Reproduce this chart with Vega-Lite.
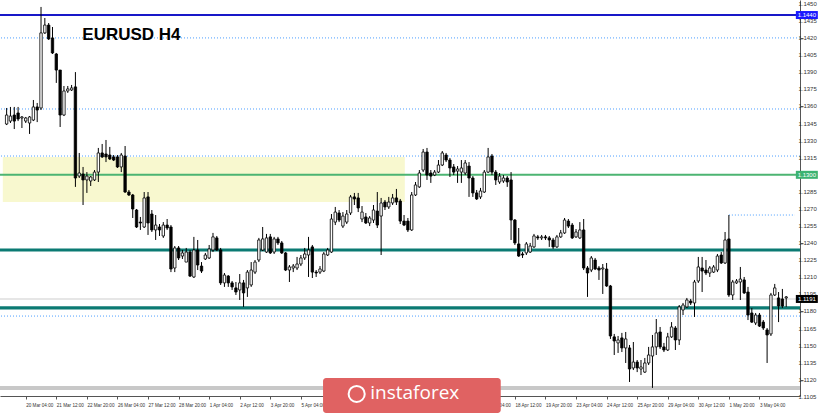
{
  "$schema": "https://vega.github.io/schema/vega-lite/v6.json",
  "width": 800,
  "height": 396,
  "autosize": {"type": "none"},
  "padding": {"left": 0, "top": 0, "right": 25, "bottom": 17},
  "background": "white",
  "config": {
    "view": {"stroke": null},
    "axis": {"labelOverlap": false, "labelFlush": false, "labelBound": false},
    "axisX": {"labelOverlap": false},
    "axisY": {"labelOverlap": false}
  },
  "datasets": {
    "bars": [
      {"i":0,"o":1.13446,"h":1.13587,"l":1.13437,"c":1.13525},
      {"i":1,"o":1.13472,"h":1.13596,"l":1.13455,"c":1.13516},
      {"i":2,"o":1.13525,"h":1.13596,"l":1.13402,"c":1.13472},
      {"i":3,"o":1.13543,"h":1.13596,"l":1.13472,"c":1.13490},
      {"i":4,"o":1.13499,"h":1.13516,"l":1.13411,"c":1.13508},
      {"i":5,"o":1.13472,"h":1.13508,"l":1.13455,"c":1.13499},
      {"i":6,"o":1.13455,"h":1.13516,"l":1.13359,"c":1.13508},
      {"i":7,"o":1.13481,"h":1.13657,"l":1.13472,"c":1.13596},
      {"i":8,"o":1.13596,"h":1.13631,"l":1.13463,"c":1.13569},
      {"i":9,"o":1.13587,"h":1.14474,"l":1.13569,"c":1.14246},
      {"i":10,"o":1.14246,"h":1.14377,"l":1.14237,"c":1.14315},
      {"i":11,"o":1.14315,"h":1.14333,"l":1.14184,"c":1.14193},
      {"i":12,"o":1.14202,"h":1.14298,"l":1.14061,"c":1.14070},
      {"i":13,"o":1.14061,"h":1.14070,"l":1.13807,"c":1.13920},
      {"i":14,"o":1.13920,"h":1.13920,"l":1.13420,"c":1.13525},
      {"i":15,"o":1.13525,"h":1.13780,"l":1.13516,"c":1.13736},
      {"i":16,"o":1.13736,"h":1.13780,"l":1.13719,"c":1.13754},
      {"i":17,"o":1.13745,"h":1.13789,"l":1.13736,"c":1.13763},
      {"i":18,"o":1.13772,"h":1.13902,"l":1.12894,"c":1.12972},
      {"i":19,"o":1.12989,"h":1.13192,"l":1.12972,"c":1.13016},
      {"i":20,"o":1.13007,"h":1.13069,"l":1.12735,"c":1.12955},
      {"i":21,"o":1.12955,"h":1.13024,"l":1.12841,"c":1.12989},
      {"i":22,"o":1.12946,"h":1.12989,"l":1.12902,"c":1.12981},
      {"i":23,"o":1.12955,"h":1.13042,"l":1.12946,"c":1.13024},
      {"i":24,"o":1.13024,"h":1.13236,"l":1.12937,"c":1.13192},
      {"i":25,"o":1.13192,"h":1.13271,"l":1.13148,"c":1.13157},
      {"i":26,"o":1.13183,"h":1.13306,"l":1.13112,"c":1.13157},
      {"i":27,"o":1.13174,"h":1.13245,"l":1.13130,"c":1.13139},
      {"i":28,"o":1.13157,"h":1.13174,"l":1.13121,"c":1.13130},
      {"i":29,"o":1.13157,"h":1.13174,"l":1.13060,"c":1.13069},
      {"i":30,"o":1.13069,"h":1.13192,"l":1.13024,"c":1.13174},
      {"i":31,"o":1.13165,"h":1.13253,"l":1.12841,"c":1.12849},
      {"i":32,"o":1.12849,"h":1.12867,"l":1.12814,"c":1.12823},
      {"i":33,"o":1.12823,"h":1.12832,"l":1.12621,"c":1.12700},
      {"i":34,"o":1.12691,"h":1.12700,"l":1.12533,"c":1.12542},
      {"i":35,"o":1.12585,"h":1.12630,"l":1.12516,"c":1.12577},
      {"i":36,"o":1.12542,"h":1.12849,"l":1.12533,"c":1.12797},
      {"i":37,"o":1.12806,"h":1.12849,"l":1.12472,"c":1.12577},
      {"i":38,"o":1.12656,"h":1.12691,"l":1.12498,"c":1.12516},
      {"i":39,"o":1.12516,"h":1.12647,"l":1.12428,"c":1.12559},
      {"i":40,"o":1.12542,"h":1.12568,"l":1.12463,"c":1.12516},
      {"i":41,"o":1.12463,"h":1.12585,"l":1.12446,"c":1.12559},
      {"i":42,"o":1.12559,"h":1.12612,"l":1.12516,"c":1.12533},
      {"i":43,"o":1.12542,"h":1.12559,"l":1.12146,"c":1.12173},
      {"i":44,"o":1.12182,"h":1.12375,"l":1.12146,"c":1.12358},
      {"i":45,"o":1.12358,"h":1.12375,"l":1.12252,"c":1.12270},
      {"i":46,"o":1.12287,"h":1.12340,"l":1.12261,"c":1.12314},
      {"i":47,"o":1.12234,"h":1.12358,"l":1.12234,"c":1.12322},
      {"i":48,"o":1.12322,"h":1.12340,"l":1.12103,"c":1.12111},
      {"i":49,"o":1.12103,"h":1.12455,"l":1.12094,"c":1.12340},
      {"i":50,"o":1.12340,"h":1.12428,"l":1.12164,"c":1.12208},
      {"i":51,"o":1.12199,"h":1.12234,"l":1.12138,"c":1.12155},
      {"i":52,"o":1.12261,"h":1.12314,"l":1.12252,"c":1.12296},
      {"i":53,"o":1.12270,"h":1.12384,"l":1.12261,"c":1.12349},
      {"i":54,"o":1.12340,"h":1.12490,"l":1.12322,"c":1.12455},
      {"i":55,"o":1.12446,"h":1.12463,"l":1.12331,"c":1.12340},
      {"i":56,"o":1.12340,"h":1.12358,"l":1.12033,"c":1.12051},
      {"i":57,"o":1.12051,"h":1.12138,"l":1.12016,"c":1.12120},
      {"i":58,"o":1.12111,"h":1.12120,"l":1.12016,"c":1.12051},
      {"i":59,"o":1.12051,"h":1.12068,"l":1.11989,"c":1.12016},
      {"i":60,"o":1.12007,"h":1.12059,"l":1.11945,"c":1.11971},
      {"i":61,"o":1.11989,"h":1.12129,"l":1.11901,"c":1.12051},
      {"i":62,"o":1.12051,"h":1.12077,"l":1.11840,"c":1.11963},
      {"i":63,"o":1.12007,"h":1.12164,"l":1.11928,"c":1.12146},
      {"i":64,"o":1.12033,"h":1.12234,"l":1.12016,"c":1.12164},
      {"i":65,"o":1.12146,"h":1.12252,"l":1.12129,"c":1.12234},
      {"i":66,"o":1.12252,"h":1.12446,"l":1.12234,"c":1.12428},
      {"i":67,"o":1.12340,"h":1.12542,"l":1.12331,"c":1.12437},
      {"i":68,"o":1.12322,"h":1.12481,"l":1.12314,"c":1.12446},
      {"i":69,"o":1.12455,"h":1.12481,"l":1.12305,"c":1.12314},
      {"i":70,"o":1.12322,"h":1.12455,"l":1.12305,"c":1.12437},
      {"i":71,"o":1.12437,"h":1.12455,"l":1.12384,"c":1.12402},
      {"i":72,"o":1.12402,"h":1.12419,"l":1.12305,"c":1.12314},
      {"i":73,"o":1.12314,"h":1.12322,"l":1.12155,"c":1.12164},
      {"i":74,"o":1.12164,"h":1.12208,"l":1.12059,"c":1.12191},
      {"i":75,"o":1.12182,"h":1.12217,"l":1.12146,"c":1.12199},
      {"i":76,"o":1.12182,"h":1.12279,"l":1.12164,"c":1.12217},
      {"i":77,"o":1.12217,"h":1.12296,"l":1.12199,"c":1.12270},
      {"i":78,"o":1.12270,"h":1.12358,"l":1.12252,"c":1.12305},
      {"i":79,"o":1.12296,"h":1.12455,"l":1.12103,"c":1.12340},
      {"i":80,"o":1.12367,"h":1.12384,"l":1.12094,"c":1.12146},
      {"i":81,"o":1.12146,"h":1.12164,"l":1.12103,"c":1.12138},
      {"i":82,"o":1.12146,"h":1.12199,"l":1.12129,"c":1.12173},
      {"i":83,"o":1.12155,"h":1.12322,"l":1.12146,"c":1.12305},
      {"i":84,"o":1.12296,"h":1.12358,"l":1.12287,"c":1.12340},
      {"i":85,"o":1.12322,"h":1.12656,"l":1.12314,"c":1.12612},
      {"i":86,"o":1.12585,"h":1.12718,"l":1.12559,"c":1.12673},
      {"i":87,"o":1.12665,"h":1.12691,"l":1.12585,"c":1.12603},
      {"i":88,"o":1.12550,"h":1.12673,"l":1.12533,"c":1.12638},
      {"i":89,"o":1.12585,"h":1.12691,"l":1.12568,"c":1.12656},
      {"i":90,"o":1.12665,"h":1.12823,"l":1.12647,"c":1.12806},
      {"i":91,"o":1.12806,"h":1.12841,"l":1.12735,"c":1.12788},
      {"i":92,"o":1.12797,"h":1.12841,"l":1.12673,"c":1.12709},
      {"i":93,"o":1.12612,"h":1.12726,"l":1.12585,"c":1.12673},
      {"i":94,"o":1.12630,"h":1.12665,"l":1.12568,"c":1.12577},
      {"i":95,"o":1.12577,"h":1.12638,"l":1.12550,"c":1.12621},
      {"i":96,"o":1.12603,"h":1.12735,"l":1.12577,"c":1.12691},
      {"i":97,"o":1.12682,"h":1.12849,"l":1.12533,"c":1.12559},
      {"i":98,"o":1.12638,"h":1.12797,"l":1.12296,"c":1.12753},
      {"i":99,"o":1.12761,"h":1.12779,"l":1.12691,"c":1.12718},
      {"i":100,"o":1.12718,"h":1.12806,"l":1.12700,"c":1.12761},
      {"i":101,"o":1.12753,"h":1.12832,"l":1.12735,"c":1.12797},
      {"i":102,"o":1.12797,"h":1.12876,"l":1.12735,"c":1.12761},
      {"i":103,"o":1.12770,"h":1.12788,"l":1.12568,"c":1.12594},
      {"i":104,"o":1.12594,"h":1.12647,"l":1.12550,"c":1.12559},
      {"i":105,"o":1.12594,"h":1.12621,"l":1.12498,"c":1.12516},
      {"i":106,"o":1.12516,"h":1.12849,"l":1.12507,"c":1.12823},
      {"i":107,"o":1.12823,"h":1.12937,"l":1.12814,"c":1.12911},
      {"i":108,"o":1.12894,"h":1.13042,"l":1.12885,"c":1.13016},
      {"i":109,"o":1.13042,"h":1.13227,"l":1.13024,"c":1.13200},
      {"i":110,"o":1.13200,"h":1.13236,"l":1.12955,"c":1.12998},
      {"i":111,"o":1.13016,"h":1.13042,"l":1.12929,"c":1.12989},
      {"i":112,"o":1.12998,"h":1.13042,"l":1.12989,"c":1.13024},
      {"i":113,"o":1.13024,"h":1.13130,"l":1.13016,"c":1.13086},
      {"i":114,"o":1.13086,"h":1.13209,"l":1.13077,"c":1.13192},
      {"i":115,"o":1.13174,"h":1.13192,"l":1.13112,"c":1.13130},
      {"i":116,"o":1.13130,"h":1.13148,"l":1.12981,"c":1.13060},
      {"i":117,"o":1.13069,"h":1.13095,"l":1.12998,"c":1.13024},
      {"i":118,"o":1.13033,"h":1.13077,"l":1.12929,"c":1.13051},
      {"i":119,"o":1.13024,"h":1.13130,"l":1.12929,"c":1.13060},
      {"i":120,"o":1.13016,"h":1.13130,"l":1.12998,"c":1.13104},
      {"i":121,"o":1.13077,"h":1.13112,"l":1.12806,"c":1.12972},
      {"i":122,"o":1.12972,"h":1.12989,"l":1.12806,"c":1.12841},
      {"i":123,"o":1.12841,"h":1.12867,"l":1.12779,"c":1.12788},
      {"i":124,"o":1.12806,"h":1.12885,"l":1.12788,"c":1.12858},
      {"i":125,"o":1.12849,"h":1.13042,"l":1.12841,"c":1.13024},
      {"i":126,"o":1.13024,"h":1.13236,"l":1.13016,"c":1.13157},
      {"i":127,"o":1.13165,"h":1.13183,"l":1.12998,"c":1.13024},
      {"i":128,"o":1.13024,"h":1.13042,"l":1.12911,"c":1.12955},
      {"i":129,"o":1.12937,"h":1.13016,"l":1.12920,"c":1.12989},
      {"i":130,"o":1.12946,"h":1.12998,"l":1.12929,"c":1.12972},
      {"i":131,"o":1.12972,"h":1.12989,"l":1.12894,"c":1.12937},
      {"i":132,"o":1.12955,"h":1.13024,"l":1.12428,"c":1.12603},
      {"i":133,"o":1.12603,"h":1.12612,"l":1.12384,"c":1.12402},
      {"i":134,"o":1.12393,"h":1.12533,"l":1.12279,"c":1.12287},
      {"i":135,"o":1.12305,"h":1.12322,"l":1.12270,"c":1.12296},
      {"i":136,"o":1.12314,"h":1.12410,"l":1.12296,"c":1.12393},
      {"i":137,"o":1.12322,"h":1.12402,"l":1.12314,"c":1.12375},
      {"i":138,"o":1.12367,"h":1.12481,"l":1.12358,"c":1.12463},
      {"i":139,"o":1.12455,"h":1.12472,"l":1.12428,"c":1.12446},
      {"i":140,"o":1.12446,"h":1.12472,"l":1.12428,"c":1.12455},
      {"i":141,"o":1.12455,"h":1.12472,"l":1.12428,"c":1.12446},
      {"i":142,"o":1.12446,"h":1.12463,"l":1.12367,"c":1.12428},
      {"i":143,"o":1.12428,"h":1.12446,"l":1.12349,"c":1.12367},
      {"i":144,"o":1.12367,"h":1.12472,"l":1.12358,"c":1.12455},
      {"i":145,"o":1.12455,"h":1.12516,"l":1.12446,"c":1.12490},
      {"i":146,"o":1.12490,"h":1.12621,"l":1.12481,"c":1.12603},
      {"i":147,"o":1.12594,"h":1.12612,"l":1.12533,"c":1.12550},
      {"i":148,"o":1.12559,"h":1.12577,"l":1.12437,"c":1.12446},
      {"i":149,"o":1.12455,"h":1.12524,"l":1.12446,"c":1.12498},
      {"i":150,"o":1.12446,"h":1.12585,"l":1.12437,"c":1.12516},
      {"i":151,"o":1.12516,"h":1.12612,"l":1.12164,"c":1.12182},
      {"i":152,"o":1.12182,"h":1.12199,"l":1.11928,"c":1.12138},
      {"i":153,"o":1.12164,"h":1.12287,"l":1.12146,"c":1.12270},
      {"i":154,"o":1.12252,"h":1.12270,"l":1.12164,"c":1.12173},
      {"i":155,"o":1.12182,"h":1.12199,"l":1.12077,"c":1.12164},
      {"i":156,"o":1.12173,"h":1.12217,"l":1.11954,"c":1.12182},
      {"i":157,"o":1.12173,"h":1.12226,"l":1.12016,"c":1.12024},
      {"i":158,"o":1.12024,"h":1.12033,"l":1.11559,"c":1.11585},
      {"i":159,"o":1.11577,"h":1.11603,"l":1.11418,"c":1.11541},
      {"i":160,"o":1.11524,"h":1.11585,"l":1.11436,"c":1.11550},
      {"i":161,"o":1.11568,"h":1.11612,"l":1.11444,"c":1.11480},
      {"i":162,"o":1.11480,"h":1.11620,"l":1.11348,"c":1.11559},
      {"i":163,"o":1.11480,"h":1.11506,"l":1.11181,"c":1.11295},
      {"i":164,"o":1.11304,"h":1.11532,"l":1.11286,"c":1.11356},
      {"i":165,"o":1.11356,"h":1.11374,"l":1.11268,"c":1.11304},
      {"i":166,"o":1.11295,"h":1.11374,"l":1.11242,"c":1.11313},
      {"i":167,"o":1.11268,"h":1.11392,"l":1.11260,"c":1.11348},
      {"i":168,"o":1.11348,"h":1.11489,"l":1.11330,"c":1.11418},
      {"i":169,"o":1.11409,"h":1.11594,"l":1.11129,"c":1.11489},
      {"i":170,"o":1.11489,"h":1.11734,"l":1.11418,"c":1.11612},
      {"i":171,"o":1.11620,"h":1.11664,"l":1.11471,"c":1.11489},
      {"i":172,"o":1.11489,"h":1.11524,"l":1.11444,"c":1.11462},
      {"i":173,"o":1.11462,"h":1.11612,"l":1.11453,"c":1.11577},
      {"i":174,"o":1.11577,"h":1.11707,"l":1.11568,"c":1.11664},
      {"i":175,"o":1.11655,"h":1.11672,"l":1.11462,"c":1.11550},
      {"i":176,"o":1.11550,"h":1.11857,"l":1.11506,"c":1.11840},
      {"i":177,"o":1.11813,"h":1.11875,"l":1.11769,"c":1.11857},
      {"i":178,"o":1.11840,"h":1.11919,"l":1.11831,"c":1.11901},
      {"i":179,"o":1.11892,"h":1.11910,"l":1.11857,"c":1.11875},
      {"i":180,"o":1.11875,"h":1.12077,"l":1.11752,"c":1.12059},
      {"i":181,"o":1.12068,"h":1.12279,"l":1.12051,"c":1.12191},
      {"i":182,"o":1.12182,"h":1.12279,"l":1.11971,"c":1.12155},
      {"i":183,"o":1.12164,"h":1.12252,"l":1.12120,"c":1.12138},
      {"i":184,"o":1.12138,"h":1.12199,"l":1.12103,"c":1.12182},
      {"i":185,"o":1.12146,"h":1.12208,"l":1.12138,"c":1.12191},
      {"i":186,"o":1.12164,"h":1.12305,"l":1.12146,"c":1.12287},
      {"i":187,"o":1.12296,"h":1.12322,"l":1.12217,"c":1.12226},
      {"i":188,"o":1.12226,"h":1.12498,"l":1.12217,"c":1.12428},
      {"i":189,"o":1.12437,"h":1.12647,"l":1.11928,"c":1.11945},
      {"i":190,"o":1.11945,"h":1.12077,"l":1.11901,"c":1.12059},
      {"i":191,"o":1.12051,"h":1.12085,"l":1.12042,"c":1.12068},
      {"i":192,"o":1.12059,"h":1.12191,"l":1.11901,"c":1.12085},
      {"i":193,"o":1.12077,"h":1.12103,"l":1.11954,"c":1.11963},
      {"i":194,"o":1.11971,"h":1.12016,"l":1.11725,"c":1.11769},
      {"i":195,"o":1.11787,"h":1.11831,"l":1.11699,"c":1.11707},
      {"i":196,"o":1.11699,"h":1.11787,"l":1.11681,"c":1.11769},
      {"i":197,"o":1.11769,"h":1.11787,"l":1.11664,"c":1.11672},
      {"i":198,"o":1.11707,"h":1.11725,"l":1.11638,"c":1.11655},
      {"i":199,"o":1.11638,"h":1.11655,"l":1.11348,"c":1.11594},
      {"i":200,"o":1.11603,"h":1.11963,"l":1.11585,"c":1.11945},
      {"i":201,"o":1.11945,"h":1.12042,"l":1.11936,"c":1.12007},
      {"i":202,"o":1.11919,"h":1.11971,"l":1.11707,"c":1.11848},
      {"i":203,"o":1.11910,"h":1.11998,"l":1.11831,"c":1.11848},
      {"i":204,"o":1.11919,"h":1.11936,"l":1.11840,"c":1.11928}
    ],
    "levels": [
      {"kind": "blue", "p": 1.14403},
      {"kind": "dot", "p": 1.14202},
      {"kind": "dot", "p": 1.13578},
      {"kind": "dot", "p": 1.13165},
      {"kind": "dot", "p": 1.11760},
      {"kind": "green", "p": 1.13000},
      {"kind": "teal", "p": 1.12340},
      {"kind": "teal", "p": 1.11831},
      {"kind": "bid", "p": 1.11910},
      {"kind": "support", "p": 1.11129}
    ],
    "yticks": [
      {"p": 1.1450, "at": 207.2}, {"p": 1.1435, "at": 207.2}, {"p": 1.1420, "at": 207.2},
      {"p": 1.1405, "at": 207.2}, {"p": 1.1390, "at": 207.2}, {"p": 1.1375, "at": 207.2},
      {"p": 1.1360, "at": 207.2}, {"p": 1.1345, "at": 207.2}, {"p": 1.1330, "at": 207.2},
      {"p": 1.1315, "at": 207.2}, {"p": 1.1285, "at": 207.2}, {"p": 1.1270, "at": 207.2},
      {"p": 1.1255, "at": 207.2}, {"p": 1.1240, "at": 207.2}, {"p": 1.1225, "at": 207.2},
      {"p": 1.1210, "at": 207.2}, {"p": 1.1195, "at": 207.2}, {"p": 1.1180, "at": 207.2},
      {"p": 1.1165, "at": 207.2}, {"p": 1.1150, "at": 207.2}, {"p": 1.1135, "at": 207.2},
      {"p": 1.1120, "at": 207.2}, {"p": 1.1105, "at": 207.2}
    ],
    "highline": [{"from": 189, "to": 206.3, "p": 1.12647}],
    "zone": [{"from": -1, "to": 104.2, "top": 1.13157, "bottom": 1.12761}],
    "tags": [
      {"kind": "blue", "p": 1.14403, "txt": "1.1440", "at": 209.4},
      {"kind": "green", "p": 1.13000, "txt": "1.1300", "at": 209.4},
      {"kind": "black", "p": 1.11910, "txt": "1.1191", "at": 209.4}
    ],
    "title": [{"txt": "EURUSD H4", "at": 19.8, "p": 1.14184}],
    "logo": [{"from": 82.8, "to": 129.3, "top": 1.11216, "bottom": 1.10909, "txt": "instaforex", "at": 106.8, "p": 1.11085, "icon": 91.6, "ip": 1.11076}]
  },
  "encoding": {
    "x": {"field": "i", "type": "quantitative"}
  },
  "layer": [
    {
      "data": {"name": "zone"},
      "mark": {"type": "rect", "color": "#f8f8cf", "clip": true},
      "encoding": {
        "x": {"field": "from", "type": "quantitative"},
        "x2": {"field": "to"},
        "y": {"field": "top", "type": "quantitative"},
        "y2": {"field": "bottom"}
      }
    },
    {
      "data": {"name": "levels"},
      "transform": [{"filter": "datum.kind == 'dot'"}],
      "mark": {"type": "rule", "color": "#4d9fff", "strokeWidth": 1, "strokeDash": [1, 2]},
      "encoding": {"x": null, "y": {"field": "p", "type": "quantitative"}}
    },
    {
      "data": {"name": "levels"},
      "transform": [{"filter": "datum.kind == 'blue'"}],
      "mark": {"type": "rule", "color": "#1818c8", "strokeWidth": 2},
      "encoding": {"x": null, "y": {"field": "p", "type": "quantitative"}}
    },
    {
      "data": {"name": "levels"},
      "transform": [{"filter": "datum.kind == 'green'"}],
      "mark": {"type": "rule", "color": "#4cb472", "strokeWidth": 2},
      "encoding": {"x": null, "y": {"field": "p", "type": "quantitative"}}
    },
    {
      "data": {"name": "levels"},
      "transform": [{"filter": "datum.kind == 'bid'"}],
      "mark": {"type": "rule", "color": "#e6e6e6", "strokeWidth": 2},
      "encoding": {"x": null, "y": {"field": "p", "type": "quantitative"}}
    },
    {
      "data": {"name": "levels"},
      "transform": [{"filter": "datum.kind == 'teal'"}],
      "mark": {"type": "rule", "color": "#0b7a73", "strokeWidth": 3.2},
      "encoding": {"x": null, "y": {"field": "p", "type": "quantitative"}}
    },
    {
      "data": {"name": "levels"},
      "transform": [{"filter": "datum.kind == 'support'"}],
      "mark": {"type": "rule", "color": "#c8c8c8", "strokeWidth": 4},
      "encoding": {"x": null, "y": {"field": "p", "type": "quantitative"}}
    },
    {
      "data": {"name": "highline"},
      "mark": {"type": "rule", "color": "#4d9fff", "strokeWidth": 1, "strokeDash": [1, 2]},
      "encoding": {
        "x": {"field": "from", "type": "quantitative"},
        "x2": {"field": "to"},
        "y": {"field": "p", "type": "quantitative"}
      }
    },
    {
      "data": {"name": "bars"},
      "mark": {"type": "rule", "color": "#000000", "strokeWidth": 1},
      "encoding": {
        "x": {
          "field": "i",
          "type": "quantitative",
          "scale": {"domain": [-0.426, 206.3], "nice": false, "zero": false},
          "axis": {
            "orient": "bottom",
            "title": null,
            "grid": false,
            "values": [5, 13, 21, 29, 37, 45, 53, 61, 69, 77, 125, 133, 141, 149, 157, 165, 173, 181, 189, 197],
            "labelExpr": "['20 Mar 04:00','21 Mar 12:00','22 Mar 20:00','26 Mar 04:00','27 Mar 12:00','28 Mar 20:00','1 Apr 04:00','2 Apr 12:00','3 Apr 20:00','5 Apr 04:00','8 Apr 12:00','9 Apr 20:00','11 Apr 04:00','12 Apr 12:00','15 Apr 20:00','17 Apr 04:00','18 Apr 12:00','19 Apr 20:00','23 Apr 04:00','24 Apr 12:00','25 Apr 20:00','29 Apr 04:00','30 Apr 12:00','1 May 20:00','3 May 04:00'][(datum.value - 5) / 8]",
            "labelAlign": "left",
            "labelFont": "Liberation Sans",
            "labelFontSize": 4.6,
            "labelColor": "#333333",
            "labelPadding": 3,
            "labelOverlap": false,
            "labelFlush": false,
            "tickSize": 3,
            "tickColor": "#555555",
            "domainColor": "#555555"
          }
        },
        "y": {
          "field": "l",
          "type": "quantitative",
          "scale": {"domain": [1.11058, 1.14535], "nice": false, "zero": false},
          "axis": {
            "orient": "right",
            "title": null,
            "grid": false,
            "labels": false,
            "values": [1.1450, 1.1435, 1.1420, 1.1405, 1.1390, 1.1375, 1.1360, 1.1345, 1.1330, 1.1315, 1.1300, 1.1285, 1.1270, 1.1255, 1.1240, 1.1225, 1.1210, 1.1195, 1.1180, 1.1165, 1.1150, 1.1135, 1.1120, 1.1105],
            "tickSize": 3,
            "tickColor": "#555555",
            "domainColor": "#555555"
          }
        },
        "y2": {"field": "h"}
      }
    },
    {
      "data": {"name": "bars"},
      "mark": {"type": "bar", "width": 2.4, "stroke": "#000000", "strokeWidth": 0.8},
      "encoding": {
        "x": {"field": "i", "type": "quantitative"},
        "y": {"field": "o", "type": "quantitative"},
        "y2": {"field": "c"},
        "fill": {
          "condition": {"test": "datum.c > datum.o", "value": "#ffffff"},
          "value": "#000000"
        }
      }
    },
    {
      "data": {"name": "title"},
      "mark": {"type": "text", "align": "left", "baseline": "alphabetic", "font": "Liberation Sans", "fontWeight": "bold", "fontSize": 17, "color": "#000000"},
      "encoding": {
        "x": {"field": "at", "type": "quantitative"},
        "y": {"field": "p", "type": "quantitative"},
        "text": {"field": "txt"}
      }
    },
    {
      "data": {"name": "yticks"},
      "mark": {"type": "text", "align": "left", "baseline": "middle", "font": "Liberation Sans", "fontSize": 6, "color": "#333333"},
      "encoding": {
        "x": {"field": "at", "type": "quantitative"},
        "y": {"field": "p", "type": "quantitative"},
        "text": {"field": "p", "type": "quantitative", "format": ".4f"}
      }
    },
    {
      "data": {"name": "tags"},
      "mark": {"type": "tick", "orient": "horizontal", "size": 22, "thickness": 8, "opacity": 1},
      "encoding": {
        "x": {"field": "at", "type": "quantitative"},
        "y": {"field": "p", "type": "quantitative"},
        "color": {
          "field": "kind",
          "type": "nominal",
          "scale": {"domain": ["blue", "green", "black"], "range": ["#1a1aff", "#3cb371", "#000000"]},
          "legend": null
        }
      }
    },
    {
      "data": {"name": "tags"},
      "mark": {"type": "text", "align": "center", "baseline": "middle", "font": "Liberation Sans", "fontSize": 6, "color": "#ffffff"},
      "encoding": {
        "x": {"field": "at", "type": "quantitative"},
        "y": {"field": "p", "type": "quantitative"},
        "text": {"field": "txt"}
      }
    },
    {
      "data": {"name": "logo"},
      "mark": {"type": "rect", "color": "#e06262", "cornerRadius": 3},
      "encoding": {
        "x": {"field": "from", "type": "quantitative"},
        "x2": {"field": "to"},
        "y": {"field": "top", "type": "quantitative"},
        "y2": {"field": "bottom"}
      }
    },
    {
      "data": {"name": "logo"},
      "mark": {"type": "point", "shape": "circle", "filled": false, "stroke": "#ffffff", "strokeWidth": 2, "size": 260, "opacity": 1},
      "encoding": {
        "x": {"field": "icon", "type": "quantitative"},
        "y": {"field": "ip", "type": "quantitative"}
      }
    },
    {
      "data": {"name": "logo"},
      "mark": {"type": "text", "align": "center", "baseline": "middle", "font": "Open Sans", "fontSize": 19, "color": "#ffffff"},
      "encoding": {
        "x": {"field": "at", "type": "quantitative"},
        "y": {"field": "p", "type": "quantitative"},
        "text": {"field": "txt"}
      }
    }
  ]
}
